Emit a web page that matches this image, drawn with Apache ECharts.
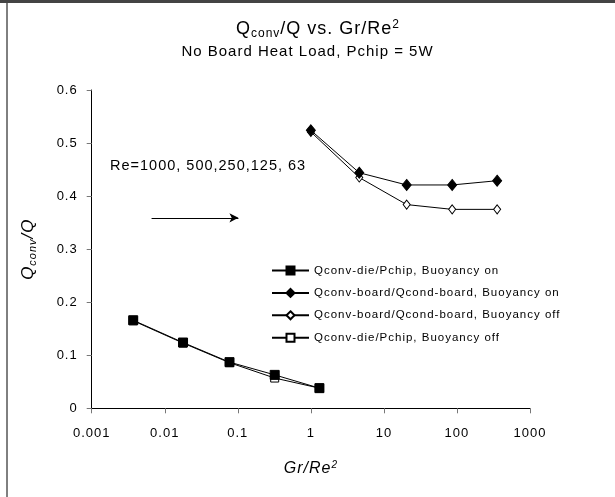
<!DOCTYPE html>
<html>
<head>
<meta charset="utf-8">
<title>Qconv/Q vs. Gr/Re2</title>
<script src="https://cdn.jsdelivr.net/npm/echarts@6/dist/echarts.min.js"></script>
<style>
    html, body { margin: 0; padding: 0; background: #fff; }
    #chart { width: 615px; height: 497px; }
</style>
</head>
<body>
<div id="chart"></div>
<script>
    // Gr/Re^2 positions, one point per Re (1000, 500, 250, 125, 63)
    var dieX = [0.0037, 0.0178, 0.077, 0.32, 1.31];
    var boardX = [1.0, 4.6, 20.5, 86, 355];

    // Qconv/Q values
    var dieOn = [0.166, 0.124, 0.087, 0.063, 0.038];
    var dieOff = [0.165, 0.123, 0.086, 0.057, 0.038];
    var boardOn = [0.524, 0.444, 0.421, 0.421, 0.429];
    var boardOff = [0.521, 0.435, 0.384, 0.375, 0.375];

    var yTicks = ['0', '0.1', '0.2', '0.3', '0.4', '0.5', '0.6'];
    var legendNames = [
        'Qconv-die/Pchip, Buoyancy on',
        'Qconv-board/Qcond-board, Buoyancy on',
        'Qconv-board/Qcond-board, Buoyancy off',
        'Qconv-die/Pchip, Buoyancy off'
    ];

    function pairs(xs, ys) {
        var out = [];
        for (var i = 0; i < xs.length; i++) out.push([xs[i], ys[i]]);
        return out;
    }

    // the old excel export sets its text loosely, give every canvas a bit of letter spacing
    var getCtx = HTMLCanvasElement.prototype.getContext;
    HTMLCanvasElement.prototype.getContext = function (type, opts) {
        var ctx = getCtx.call(this, type, opts);
        if (ctx && type === '2d' && 'letterSpacing' in ctx) ctx.letterSpacing = '1px';
        return ctx;
    };

    var font = '"Liberation Sans", Arial, sans-serif';

    var chart = echarts.init(document.getElementById('chart'));
    chart.setOption({
        animation: false,
        textStyle: { fontFamily: font, color: '#000' },
        title: [{
            left: 231,
            top: 13,
            text: '{a|Q}{b|conv}{a|/Q vs. Gr/Re}{c|2}',
            textStyle: {
                fontWeight: 'normal',
                rich: {
                    a: { fontSize: 18, lineHeight: 22, fontWeight: 'normal', fontFamily: font, color: '#000' },
                    b: { fontSize: 12, lineHeight: 12, verticalAlign: 'bottom', fontWeight: 'normal', fontFamily: font, color: '#000' },
                    c: { fontSize: 12, lineHeight: 12, verticalAlign: 'top', fontWeight: 'normal', fontFamily: font, color: '#000' }
                }
            }
        }, {
            left: 'center',
            top: 39,
            text: 'No Board Heat Load, Pchip = 5W',
            textStyle: { fontSize: 15, fontWeight: 'normal', fontFamily: font, color: '#000' }
        }],
        legend: {
            orient: 'vertical',
            left: 271,
            top: 264,
            padding: 0,
            itemWidth: 37,
            itemHeight: 10,
            itemGap: 9.4,
            data: legendNames,
            textStyle: { fontSize: 11.5, fontFamily: font, color: '#000' }
        },
        grid: { left: 91.7, right: 85, top: 90, bottom: 88.7 },
        xAxis: {
            type: 'log',
            logBase: 10,
            min: 0.001,
            max: 1000,
            splitNumber: 6,
            name: '{a|Gr/Re}{c|2}',
            nameLocation: 'middle',
            nameGap: 51,
            nameTextStyle: {
                rich: {
                    a: { fontSize: 16, lineHeight: 18, fontStyle: 'italic', fontFamily: font, color: '#000' },
                    c: { fontSize: 10, lineHeight: 10, verticalAlign: 'top', fontStyle: 'italic', fontFamily: font, color: '#000' }
                }
            },
            axisLine: { lineStyle: { color: '#000', width: 1 } },
            axisTick: { length: 5, lineStyle: { color: '#777' } },
            axisLabel: {
                fontSize: 13,
                margin: 18,
                color: '#000',
                formatter: function (v) { return String(+v.toPrecision(3)); }
            },
            splitLine: { show: false },
            minorTick: { show: false }
        },
        yAxis: {
            type: 'value',
            min: 0,
            max: 0.6,
            interval: 0.1,
            name: '{a|Q}{b|conv}{a|/Q}',
            nameLocation: 'middle',
            nameRotate: 90,
            nameGap: 53,
            nameTextStyle: {
                rich: {
                    a: { fontSize: 17, lineHeight: 20, fontStyle: 'italic', fontFamily: font, color: '#000' },
                    b: { fontSize: 11, lineHeight: 11, verticalAlign: 'bottom', fontStyle: 'italic', fontFamily: font, color: '#000' }
                }
            },
            axisLine: { show: true, lineStyle: { color: '#000', width: 1 } },
            axisTick: { show: true, length: 5, lineStyle: { color: '#777' } },
            axisLabel: {
                fontSize: 13,
                margin: 14,
                color: '#000',
                formatter: function (v) { return yTicks[Math.round(v * 10)]; }
            },
            splitLine: { show: false }
        },
        graphic: [
            // frame edges of the original sheet
            { type: 'line', shape: { x1: 7, y1: 2, x2: 7, y2: 497 }, style: { stroke: '#000', lineWidth: 1 } },
            { type: 'line', shape: { x1: 0, y1: 1.5, x2: 615, y2: 1.5 }, style: { stroke: '#444', lineWidth: 3 } },
            {
                type: 'text', left: 110, top: 158,
                style: { text: 'Re=1000, 500,250,125, 63', fontSize: 14.5, fontFamily: font, fill: '#000' }
            }
        ],
        series: [{
            name: legendNames[0],
            type: 'line',
            z: 4,
            data: pairs(dieX, dieOn),
            symbol: 'rect',
            symbolSize: 9,
            lineStyle: { color: '#000', width: 1 },
            itemStyle: { color: '#000', borderColor: '#000', borderWidth: 1 },
            markLine: {
                silent: true,
                symbol: ['none', 'arrow'],
                symbolSize: [7, 9],
                label: { show: false },
                lineStyle: { color: '#000', width: 1, type: 'solid' },
                data: [[{ coord: [0.0066, 0.359] }, { coord: [0.102, 0.359] }]]
            }
        }, {
            name: legendNames[1],
            type: 'line',
            z: 4,
            data: pairs(boardX, boardOn),
            symbol: 'diamond',
            symbolSize: [9, 11],
            lineStyle: { color: '#000', width: 1 },
            itemStyle: { color: '#000', borderColor: '#000', borderWidth: 1 }
        }, {
            name: legendNames[2],
            type: 'line',
            z: 3,
            data: pairs(boardX, boardOff),
            symbol: 'diamond',
            symbolSize: [7, 9],
            lineStyle: { color: '#000', width: 1 },
            itemStyle: { color: '#fff', borderColor: '#000', borderWidth: 1 }
        }, {
            name: legendNames[3],
            type: 'line',
            z: 2,
            data: pairs(dieX, dieOff),
            symbol: 'rect',
            symbolSize: 8,
            lineStyle: { color: '#000', width: 1 },
            itemStyle: { color: '#fff', borderColor: '#000', borderWidth: 1 }
        }]
    });
</script>
</body>
</html>
